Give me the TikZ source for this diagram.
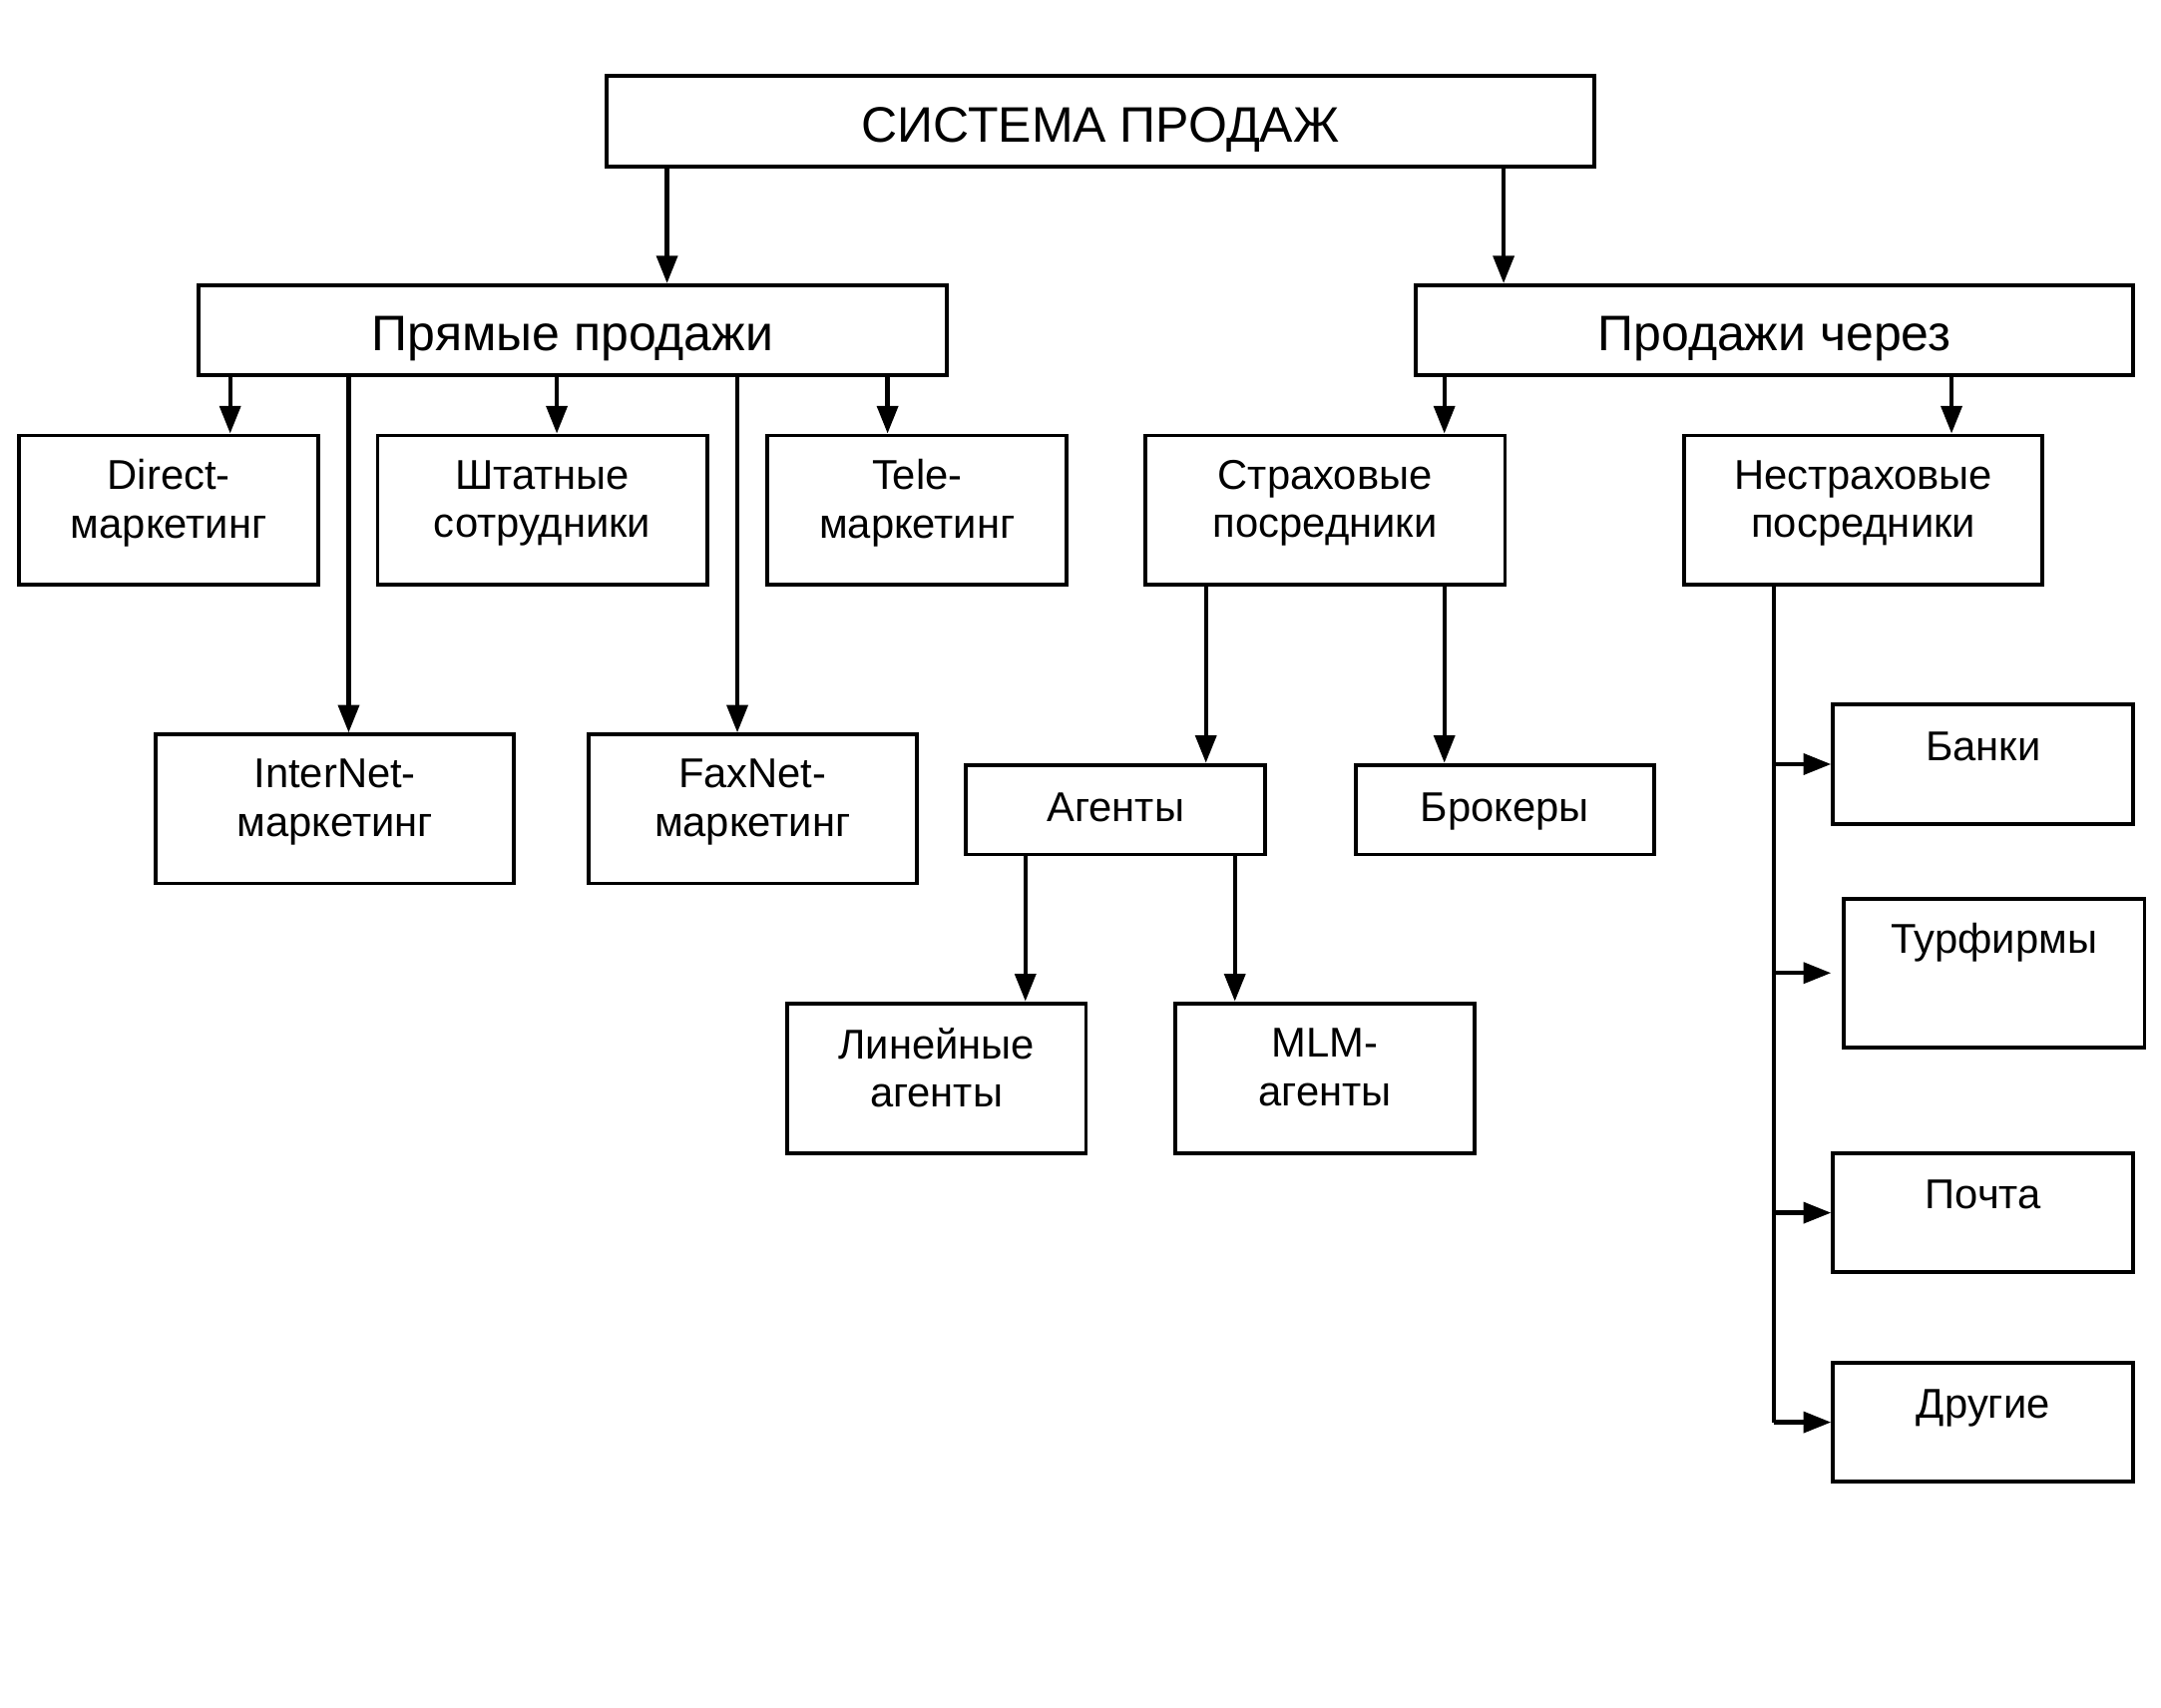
\documentclass[tikz,border=0pt]{standalone}
\usepackage{fontspec}
\setmainfont{Liberation Sans}
\usetikzlibrary{arrows.meta}

\tikzset{
    box/.style={draw, line width=0.8pt, align=center, inner sep=0pt, font=\fontsize{8.6}{10}\selectfont},
    bigbox/.style={box, text height=0.32cm, text depth=0.02cm, font=\fontsize{10.3}{12}\selectfont},
    onebox/.style={box, text height=0.22cm, text depth=0.05cm},
    twoline/.style={text depth=0.16cm},
    uptext/.style={text height=0.22cm, text depth=#1},
    arr/.style={line width=0.9pt, -{Triangle[length=0.2cm,width=0.15cm]}},
    bus/.style={line width=0.9pt}
}

\begin{document}
\begin{tikzpicture}
    \useasboundingbox (0,0) rectangle (15.68,-12.39);

    % top level
    \node[bigbox, minimum width=7.17cm, minimum height=0.66cm] (sys) at (7.985,-0.88) {СИСТЕМА ПРОДАЖ};
    \node[bigbox, minimum width=5.43cm, minimum height=0.65cm] (pryam) at (4.155,-2.395) {Прямые продажи};
    \node[bigbox, minimum width=5.21cm, minimum height=0.65cm] (cherez) at (12.875,-2.395) {Продажи через};

    % second row
    \node[box, twoline, minimum width=2.17cm, minimum height=1.08cm] (direct) at (1.225,-3.70) {Direct-\\маркетинг};
    \node[box, twoline, minimum width=2.39cm, minimum height=1.08cm] (shtat) at (3.935,-3.70) {Штатные\\сотрудники};
    \node[box, twoline, minimum width=2.17cm, minimum height=1.08cm] (tele) at (6.655,-3.70) {Tele-\\маркетинг};
    \node[box, twoline, minimum width=2.61cm, minimum height=1.08cm] (strah) at (9.615,-3.70) {Страховые\\посредники};
    \node[box, twoline, minimum width=2.60cm, minimum height=1.08cm] (nestrah) at (13.52,-3.70) {Нестраховые\\посредники};

    % direct sales, lower row
    \node[box, twoline, minimum width=2.60cm, minimum height=1.08cm] (internet) at (2.43,-5.87) {InterNet-\\маркетинг};
    \node[box, twoline, minimum width=2.38cm, minimum height=1.08cm] (faxnet) at (5.46,-5.87) {FaxNet-\\маркетинг};

    % insurance intermediaries
    \node[onebox, minimum width=2.17cm, minimum height=0.65cm] (agent) at (8.095,-5.875) {Агенты};
    \node[onebox, minimum width=2.16cm, minimum height=0.65cm] (broker) at (10.92,-5.875) {Брокеры};
    \node[box, twoline, minimum width=2.17cm, minimum height=1.09cm] (linear) at (6.795,-7.825) {Линейные\\агенты};
    \node[box, twoline, minimum width=2.17cm, minimum height=1.09cm] (mlm) at (9.615,-7.825) {MLM-\\агенты};

    % other intermediaries
    \node[box, uptext=0.27cm, minimum width=2.18cm, minimum height=0.87cm] (banki) at (14.39,-5.545) {Банки};
    \node[box, uptext=0.50cm, minimum width=2.18cm, minimum height=1.08cm] (turf) at (14.47,-7.06) {Турфирмы};
    \node[box, uptext=0.28cm, minimum width=2.18cm, minimum height=0.86cm] (pochta) at (14.39,-8.80) {Почта};
    \node[box, uptext=0.28cm, minimum width=2.18cm, minimum height=0.86cm] (drugie) at (14.39,-10.32) {Другие};

    % connectors
    \draw[arr] (sys.south -| 4.84,0) -- (pryam.north -| 4.84,0);
    \draw[arr] (sys.south -| 10.91,0) -- (cherez.north -| 10.91,0);

    \draw[arr] (pryam.south -| 1.67,0) -- (direct.north -| 1.67,0);
    \draw[arr] (pryam.south -| 4.04,0) -- (shtat.north -| 4.04,0);
    \draw[arr] (pryam.south -| 6.44,0) -- (tele.north -| 6.44,0);
    \draw[arr] (pryam.south -| 2.53,0) -- (internet.north -| 2.53,0);
    \draw[arr] (pryam.south -| 5.35,0) -- (faxnet.north -| 5.35,0);

    \draw[arr] (cherez.south -| 10.48,0) -- (strah.north -| 10.48,0);
    \draw[arr] (cherez.south -| 14.16,0) -- (nestrah.north -| 14.16,0);

    \draw[arr] (strah.south -| 8.75,0) -- (agent.north -| 8.75,0);
    \draw[arr] (strah.south -| 10.48,0) -- (broker.north -| 10.48,0);
    \draw[arr] (agent.south -| 7.44,0) -- (linear.north -| 7.44,0);
    \draw[arr] (agent.south -| 8.96,0) -- (mlm.north -| 8.96,0);

    \coordinate (busend) at (12.87,-10.32);
    \draw[bus] (nestrah.south -| busend) -- (busend);
    \draw[arr] (busend |- banki.west) -- (banki.west);
    \draw[arr, shorten >=0.08cm] (busend |- turf.west) -- (turf.west);
    \draw[arr] (busend |- pochta.west) -- (pochta.west);
    \draw[arr] (busend |- drugie.west) -- (drugie.west);
\end{tikzpicture}
\end{document}
